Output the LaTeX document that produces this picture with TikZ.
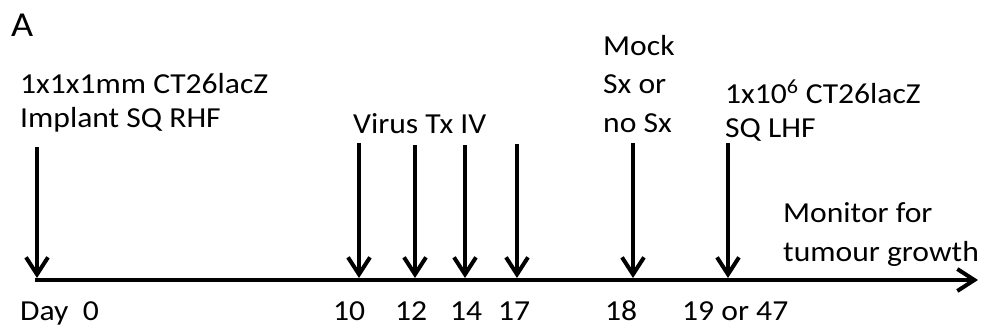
\documentclass[tikz,border=0pt]{standalone}
\usepackage{fontspec}
\setmainfont{Carlito}[FakeStretch=1.09]
\usetikzlibrary{arrows.meta}
\tikzset{
  lbl/.style={anchor=base west, inner sep=0pt, align=left, font=\fontsize{29}{38.5}\selectfont},
  evarrow/.style={line width=4pt, -{Straight Barb[length=17pt,width=22pt,line width=4pt]}},
  timeaxis/.style={line width=4pt, -{Straight Barb[length=17pt,width=22pt,line width=4pt]}}
}
\begin{document}
\begin{tikzpicture}[x=1pt,y=-1pt]
  \useasboundingbox (0,0) rectangle (989,332);
  % panel letter (base anchor sits on the last line of a label)
  \node[lbl, font=\fontsize{35}{38}\selectfont] (panel) at (11,36) {A};
  % event labels
  \node[lbl] (implant) at (20,127) {1x1x1mm CT26lacZ\\[-4.5pt]Implant SQ RHF};
  \node[lbl] (virus) at (353,133) {Virus Tx IV};
  \node[lbl] (mock) at (603,132) {Mock\\Sx or\\no Sx};
  \node[lbl] (rechal) at (725,137) {1x10\textsuperscript{6} CT26lacZ\\[-4.5pt]SQ LHF};
  \node[lbl] (monitor) at (783,261) {Monitor for\\tumour growth};
  % day labels
  \node[lbl] (d0) at (20,320) {Day\ \ 0};
  \node[lbl] (d10) at (333,320) {10};
  \node[lbl] (d12) at (395,320) {12};
  \node[lbl] (d14) at (450,320) {14};
  \node[lbl] (d17) at (498,320) {17};
  \node[lbl] (d18) at (605,320) {18};
  \node[lbl] (d19) at (682,320) {19 or 47};
  % time axis
  \coordinate (axs) at (35,280);
  \coordinate (axe) at (978,280);
  \draw[timeaxis] (axs) -- (axe);
  % event arrows
  \foreach \n/\x/\y in {a0/37/147, a10/359/143, a12/415/145, a14/465/145, a17/517/144, a18/633/143, a19/728/143} {
    \coordinate (\n t) at (\x,\y);
    \coordinate (\n b) at (\x,278);
    \draw[evarrow] (\n t) -- (\n b);
  }
\end{tikzpicture}
\end{document}
